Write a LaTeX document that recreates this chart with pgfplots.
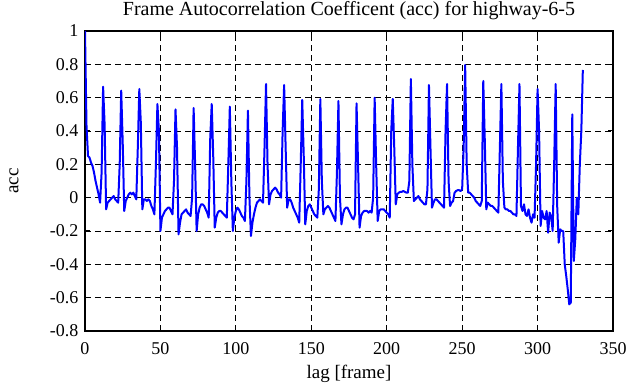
\documentclass[border=0pt]{standalone}
\usepackage{pgfplots}
\pgfplotsset{compat=1.18}
\usepackage{fontspec}
\setmainfont{Liberation Serif}
\begin{document}
\begin{tikzpicture}
\begin{axis}[
  width=528pt, height=300pt, scale only axis,
  xmin=0, xmax=350, ymin=-0.8, ymax=1,
  xtick={0,50,...,350},
  ytick={-0.8,-0.6,...,1.0},
  yticklabels={-0.8,-0.6,-0.4,-0.2,0,0.2,0.4,0.6,0.8,1},
  /pgf/number format/assume math mode=true,
  tick label style={font=\fontsize{18}{21}\selectfont},
  xticklabel style={anchor=base, yshift=-23pt},
  yticklabel style={xshift=-3pt},
  title style={font=\fontsize{20}{23}\selectfont, at={(axis description cs:0.5,1.0533)}, anchor=base, yshift=-6pt},
  title={Frame Autocorrelation Coefficent (acc) for highway-6-5},
  xlabel={lag [frame]},
  ylabel={acc},
  xlabel style={font=\fontsize{19}{22}\selectfont, at={(axis description cs:0.5,-0.1567)}, anchor=base},
  ylabel style={font=\fontsize{19}{22}\selectfont, at={(axis description cs:-0.1345,0.5)}, anchor=center},
  grid=major,
  major grid style={black, line width=0.8pt, dash pattern=on 6pt off 4pt},
  axis line style={black, line width=1.3pt},
  tick style={black, line width=1pt},
  tick align=inside,
  major tick length=5pt,
  xtick pos=both, ytick pos=both,
  scaled ticks=false,
]
\addplot[blue, line width=2pt, line join=round] coordinates {
(0,1.0)(1,0.43)(2,0.25)(3,0.24)(4,0.21)(5,0.19)(6,0.15)(7,0.1)(8,0.06)(9,0.02)(10,-0.03)(11,0.15)(12,0.666)(13,0.44)(14,-0.07)(15,-0.03)(16,-0.02)(17,-0.01)(18,0.0)(19,0.01)(20,-0.01)(21,-0.02)(22,-0.03)(23,0.2)(24,0.642)(25,0.33)(26,-0.08)(27,-0.02)(28,0.0)(29,0.02)(30,0.03)(31,0.02)(32,0.03)(33,0.01)(34,-0.01)(35,0.3)(36,0.652)(37,0.45)(38,-0.07)(39,-0.01)(40,-0.01)(41,-0.02)(42,-0.01)(43,-0.02)(44,-0.05)(45,-0.07)(46,-0.1)(47,0.2)(48,0.562)(49,0.4)(50,-0.2)(51,-0.12)(52,-0.1)(53,-0.08)(54,-0.07)(55,-0.06)(56,-0.06)(57,-0.08)(58,-0.1)(59,0.1)(60,0.53)(61,0.3)(62,-0.22)(63,-0.15)(64,-0.1)(65,-0.09)(66,-0.08)(67,-0.07)(68,-0.09)(69,-0.1)(70,-0.11)(71,0.0)(72,0.538)(73,0.2)(74,-0.2)(75,-0.1)(76,-0.06)(77,-0.04)(78,-0.04)(79,-0.05)(80,-0.07)(81,-0.09)(82,-0.12)(83,0.35)(84,0.562)(85,0.25)(86,-0.18)(87,-0.12)(88,-0.09)(89,-0.08)(90,-0.08)(91,-0.09)(92,-0.1)(93,-0.11)(94,-0.12)(95,0.2)(96,0.546)(97,0.1)(98,-0.2)(99,-0.12)(100,-0.08)(101,-0.06)(102,-0.07)(103,-0.09)(104,-0.11)(105,-0.12)(106,-0.14)(107,0.1)(108,0.522)(109,0.0)(110,-0.23)(111,-0.15)(112,-0.1)(113,-0.06)(114,-0.03)(115,-0.02)(116,-0.01)(117,-0.02)(118,-0.03)(119,0.3)(120,0.682)(121,0.2)(122,-0.04)(123,0.02)(124,0.04)(125,0.05)(126,0.06)(127,0.05)(128,0.03)(129,0.02)(130,0.0)(131,0.4)(132,0.676)(133,0.3)(134,-0.06)(135,-0.01)(136,-0.01)(137,-0.03)(138,-0.06)(139,-0.08)(140,-0.1)(141,-0.12)(142,-0.15)(143,0.2)(144,0.586)(145,0.25)(146,-0.16)(147,-0.08)(148,-0.05)(149,-0.04)(150,-0.06)(151,-0.08)(152,-0.1)(153,-0.11)(154,-0.12)(155,0.05)(156,0.592)(157,0.1)(158,-0.1)(159,-0.07)(160,-0.06)(161,-0.05)(162,-0.06)(163,-0.08)(164,-0.1)(165,-0.12)(166,-0.14)(167,0.15)(168,0.58)(169,0.0)(170,-0.16)(171,-0.1)(172,-0.07)(173,-0.06)(174,-0.06)(175,-0.08)(176,-0.1)(177,-0.12)(178,-0.13)(179,-0.1)(180,0.566)(181,0.2)(182,-0.18)(183,-0.11)(184,-0.09)(185,-0.08)(186,-0.08)(187,-0.08)(188,-0.09)(189,-0.08)(190,-0.09)(191,0.0)(192,0.6)(193,0.2)(194,-0.14)(195,-0.08)(196,-0.07)(197,-0.07)(198,-0.07)(199,-0.08)(200,-0.09)(201,-0.1)(202,-0.12)(203,0.4)(204,0.592)(205,0.3)(206,-0.04)(207,0.02)(208,0.03)(209,0.035)(210,0.035)(211,0.04)(212,0.035)(213,0.03)(214,0.03)(215,0.1)(216,0.712)(217,0.2)(218,-0.02)(219,-0.01)(220,0.0)(221,0.01)(222,-0.01)(223,-0.02)(224,-0.03)(225,-0.04)(226,-0.04)(227,0.05)(228,0.676)(229,0.3)(230,-0.06)(231,-0.03)(232,-0.01)(233,-0.01)(234,-0.02)(235,-0.03)(236,-0.04)(237,-0.05)(238,-0.06)(239,0.4)(240,0.682)(241,0.1)(242,-0.05)(243,-0.03)(244,-0.02)(245,0.03)(246,0.04)(247,0.045)(248,0.045)(249,0.04)(250,0.05)(251,0.3)(252,0.796)(253,0.2)(254,0.03)(255,0.03)(256,0.02)(257,0.01)(258,0.0)(259,-0.02)(260,-0.03)(261,-0.04)(262,-0.05)(263,-0.02)(264,0.70)(265,0.35)(266,-0.07)(267,-0.03)(268,-0.04)(269,-0.05)(270,-0.05)(271,-0.06)(272,-0.07)(273,-0.08)(274,-0.09)(275,0.3)(276,0.682)(277,0.1)(278,-0.06)(279,-0.07)(280,-0.07)(281,-0.08)(282,-0.08)(283,-0.09)(284,-0.1)(285,-0.1)(286,-0.11)(287,0.3)(288,0.682)(289,-0.05)(290,-0.08)(291,-0.04)(292,-0.1)(293,-0.11)(294,-0.07)(295,-0.12)(296,-0.15)(297,-0.1)(298,-0.12)(299,0.2)(300,0.652)(301,0.4)(302,-0.17)(303,-0.08)(304,-0.12)(305,-0.13)(306,-0.08)(307,-0.21)(308,-0.09)(309,-0.11)(310,-0.2)(311,0.2)(312,0.682)(313,-0.05)(314,-0.27)(315,-0.19)(316,-0.2)(317,-0.2)(318,-0.4)(319,-0.47)(320,-0.55)(321,-0.64)(322,-0.63)(323,0.5)(324,-0.38)(325,-0.25)(326,0.0)(327,-0.1)(328,0.2)(329,0.4)(330,0.766)
};
\end{axis}
\pgfresetboundingbox
\path[use as bounding box] ([xshift=-85pt,yshift=-56pt]current axis.south west) rectangle ([xshift=17pt,yshift=31pt]current axis.north east);
\end{tikzpicture}
\end{document}
